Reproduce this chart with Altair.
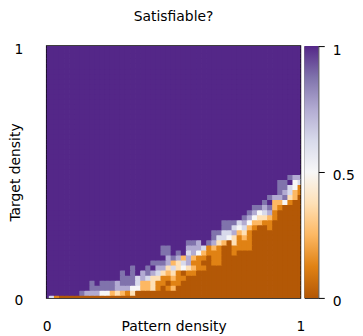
import altair as alt
import pandas as pd

TITLE = "Satisfiable?"
X_TITLE = "Pattern density"
Y_TITLE = "Target density"
AXIS_TICKS = [0, 1]
CBAR_TICKS = [0, 0.5, 1]
STEP = 0.02          # grid spacing of the density samples (51 x 51)
LEVEL_COLORS = ["#b35806", "#e08214", "#fdb863", "#fee0b6", "#f7f7f7",
                "#d8daeb", "#b2abd2", "#8073ac", "#542788"]
LEVELS = [k / 8 for k in range(9)]

# One string per target-density row, from 0 (bottom) upward.
# Each character is a level 0..8 (value = level / 8), one per pattern density 0..1.
ROWS = [
    "8510000000" "0000000000" "0000000000" "0000000000" "0000000000" "0",  # 0.00
    "8888888766" "6442321300" "0000000000" "0000000000" "0000000000" "0",  # 0.02
    "8888888887" "7777666442" "2310120000" "0000000000" "0000000000" "0",  # 0.04
    "8888888887" "8777677752" "2311011000" "0000000000" "0000000000" "0",  # 0.06
    "8888888888" "8888877756" "5331121100" "0000000000" "0000000000" "0",  # 0.08
    "8888888888" "8888878786" "7653231011" "0000000000" "0000000000" "0",  # 0.10
    "8888888888" "8888888788" "7866353432" "1100000000" "0000000000" "0",  # 0.12
    "8888888888" "8888888888" "8777623561" "1001100000" "0000000000" "0",  # 0.14
    "8888888888" "8888888888" "8888676262" "1101100000" "0000000000" "0",  # 0.16
    "8888888888" "8888888888" "8887787856" "4211100100" "0000000000" "0",  # 0.18
    "8888888888" "8888888888" "8887788866" "6512100111" "1000000000" "0",  # 0.20
    "8888888888" "8888888888" "8888888877" "6876320311" "1000000000" "0",  # 0.22
    "8888888888" "8888888888" "8888888888" "8887554312" "1000000000" "0",  # 0.24
    "8888888888" "8888888888" "8888888888" "8887755623" "1000000000" "0",  # 0.26
    "8888888888" "8888888888" "8888888888" "8888877545" "2100100000" "0",  # 0.28
    "8888888888" "8888888888" "8888888888" "8888877756" "4221100000" "0",  # 0.30
    "8888888888" "8888888888" "8888888888" "8888888887" "6433210000" "0",  # 0.32
    "8888888888" "8888888888" "8888888888" "8888888888" "7645610000" "0",  # 0.34
    "8888888888" "8888888888" "8888888888" "8888888888" "8776721000" "0",  # 0.36
    "8888888888" "8888888888" "8888888888" "8888888888" "8887822410" "0",  # 0.38
    "8888888888" "8888888888" "8888888888" "8888888888" "8888766732" "0",  # 0.40
    "8888888888" "8888888888" "8888888888" "8888888888" "8888887652" "1",  # 0.42
    "8888888888" "8888888888" "8888888888" "8888888888" "8888887754" "1",  # 0.44
    "8888888888" "8888888888" "8888888888" "8888888888" "8888887784" "5",  # 0.46
    "8888888888" "8888888888" "8888888888" "8888888888" "8888888876" "6",  # 0.48
]
# Rows 0.50 .. 1.00: entirely satisfiable (level 8)
ROWS_UPPER = ["8" * 51] * 26

records = []
for j, row in enumerate(ROWS + ROWS_UPPER):
    for i, ch in enumerate(row):
        records.append({"p": round(i * STEP, 4), "t": round(j * STEP, 4),
                        "v": int(ch) / 8})
df = pd.DataFrame(records)

FONT = "DejaVu Sans"
W, H = 256, 254
# half cell plus a hair of overlap so neighbouring cells leave no seams
half = STEP / 2 + 0.0015

color_scale = alt.Scale(domain=LEVELS, range=LEVEL_COLORS)

heat = (
    alt.Chart(df)
    .transform_calculate(
        x0=f"datum.p - {half}", x1=f"datum.p + {half}",
        y0=f"datum.t - {half}", y1=f"datum.t + {half}",
    )
    .mark_rect(clip=True)
    .encode(
        x=alt.X("x0:Q",
                scale=alt.Scale(domain=[0, 1], nice=False, zero=False),
                axis=alt.Axis(values=AXIS_TICKS, format="~g", ticks=False,
                              domain=False, grid=False, labelPadding=33,
                              labelBaseline="alphabetic", labelFlush=False,
                              title=X_TITLE, titleX=W / 2, titleY=33,
                              titleBaseline="alphabetic", titleAlign="center")),
        x2="x1:Q",
        y=alt.Y("y0:Q",
                scale=alt.Scale(domain=[0, 1], nice=False, zero=False),
                axis=alt.Axis(values=AXIS_TICKS, format="~g", ticks=False,
                              domain=False, grid=False, labelPadding=24,
                              labelFlush=False, labelOffset=3,
                              title=Y_TITLE, titleX=-27, titleY=H / 2,
                              titleAngle=-90, titleBaseline="alphabetic",
                              titleAlign="center")),
        y2="y1:Q",
        fill=alt.Fill("v:Q", scale=color_scale, legend=None),
    )
    .properties(width=W, height=H,
                title=alt.Title(TITLE, fontSize=14, fontWeight="normal",
                                font=FONT, color="black", offset=7,
                                baseline="alphabetic"))
)

gradient = alt.Gradient(
    gradient="linear",
    stops=[alt.GradientStop(color=c, offset=o) for c, o in zip(LEVEL_COLORS, LEVELS)],
    x1=0, x2=0, y1=1, y2=0,
)

cbar = (
    alt.Chart(pd.DataFrame({"lo": [0.0], "hi": [1.0]}))
    .mark_rect(color=gradient)
    .encode(
        y=alt.Y("lo:Q",
                scale=alt.Scale(domain=[0, 1], nice=False, zero=False),
                axis=alt.Axis(orient="right", values=CBAR_TICKS, format="~g",
                              tickSize=6, tickColor="black", tickWidth=1,
                              domain=False, grid=False, labelPadding=8,
                              labelOffset=4, labelFlush=False, title=None)),
        y2="hi:Q",
    )
    .properties(width=14, height=H,
                view=alt.ViewBackground(stroke="#222222", strokeWidth=1))
)

chart = (
    alt.hconcat(heat, cbar, spacing=4, bounds="flush")
    .properties(padding=0)
    .configure_view(stroke="black", strokeWidth=1.5)
    .configure_axis(labelFont=FONT, titleFont=FONT, labelFontSize=14,
                    titleFontSize=14, labelColor="black", titleColor="black",
                    titleFontWeight="normal")
)

chart.save("out.html", embed_options={"renderer": "svg", "actions": False})
